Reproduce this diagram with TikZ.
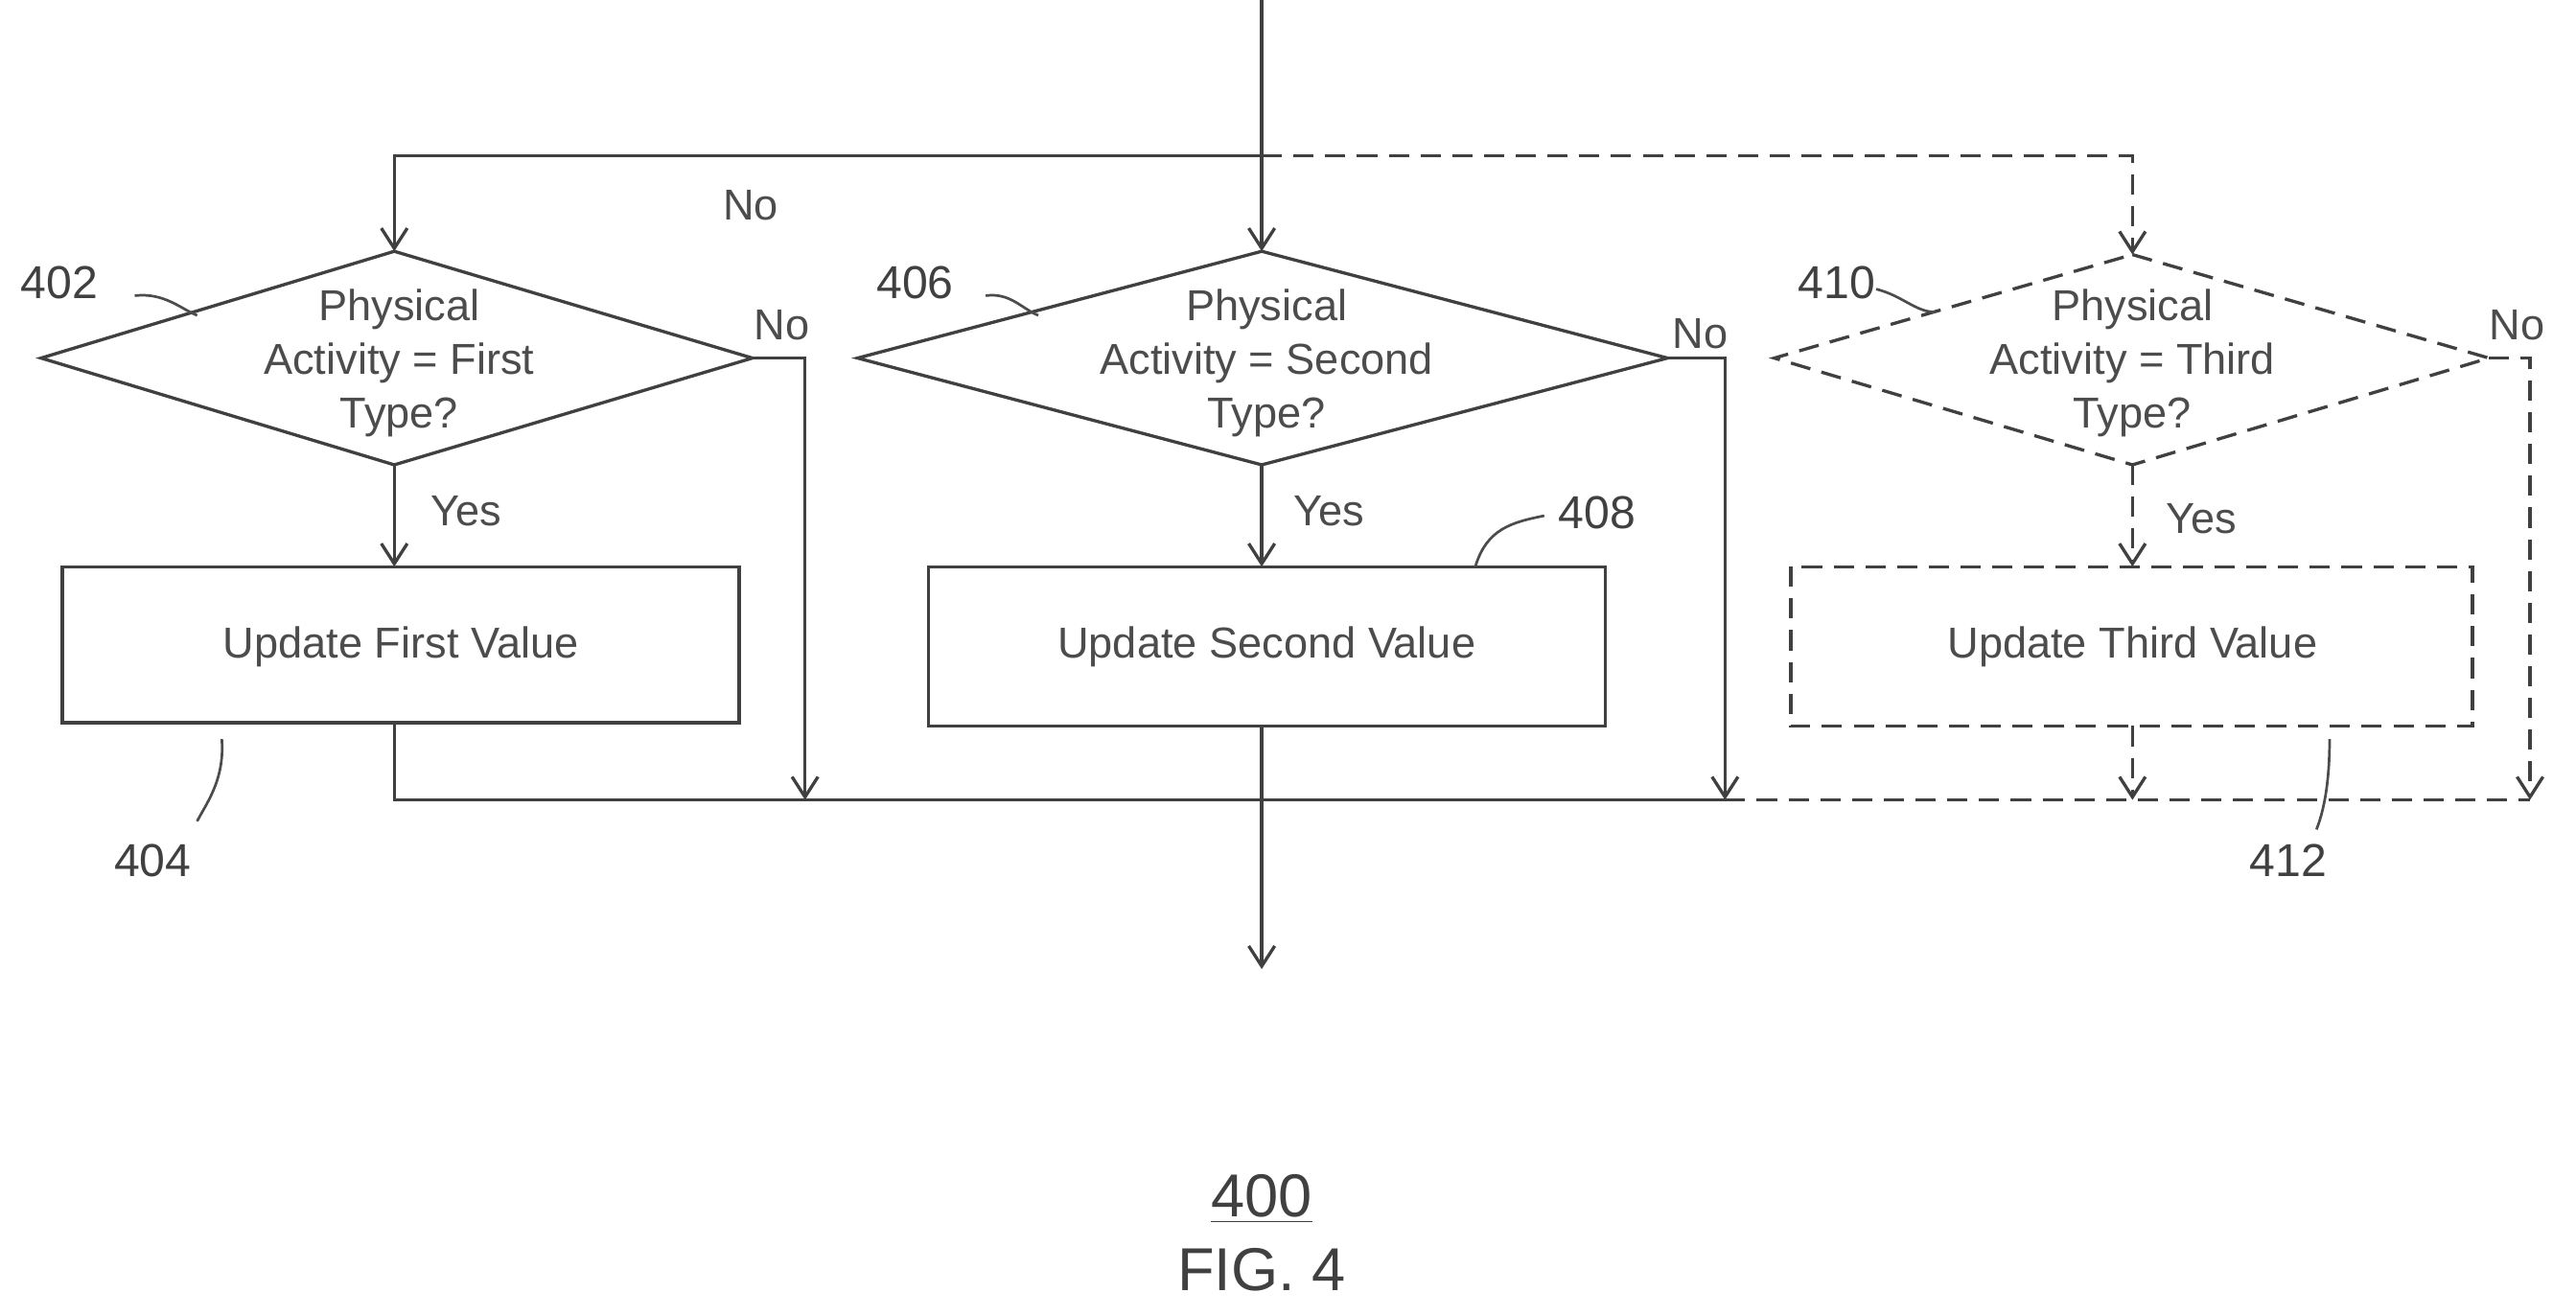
\documentclass[tikz,border=0pt]{standalone}
\usepackage{fontspec}
\setmainfont{Liberation Sans}
\usetikzlibrary{arrows.meta}
\begin{document}
\begin{tikzpicture}[x=0.02cm,y=-0.02cm,
  line/.style={draw=black!75,line width=1.1pt},
  dsh/.style={line,dash pattern=on 7pt off 4pt},
  arr/.style={-{Straight Barb[length=7pt,width=9pt]}},
  txt/.style={font=\fontsize{15}{18.5}\selectfont,text=black!70},
  lbl/.style={font=\fontsize{16}{19}\selectfont,text=black!75},
  sq/.style={draw=black!70,line width=0.9pt}]
\useasboundingbox (0,0) rectangle (1568,801);
% diamonds
\coordinate (d1t) at (240,153); \coordinate (d1b) at (240,283);
\coordinate (d1l) at (25,218); \coordinate (d1r) at (458,218);
\coordinate (d2t) at (768,153); \coordinate (d2b) at (768,283);
\coordinate (d2l) at (522,218); \coordinate (d2r) at (1015,218);
\coordinate (d3t) at (1298,155); \coordinate (d3b) at (1298,283);
\coordinate (d3l) at (1080,218); \coordinate (d3r) at (1515,218);
\draw[line] (d1t)--(d1r)--(d1b)--(d1l)--cycle;
\draw[line] (d2t)--(d2r)--(d2b)--(d2l)--cycle;
\draw[dsh] (d3t)--(d3r)--(d3b)--(d3l)--cycle;
\node[txt,align=center] (t1) at (243,221) {Physical\\Activity = First\\Type?};
\node[txt,align=center] (t2) at (771,221) {Physical\\Activity = Second\\Type?};
\node[txt,align=center] (t3) at (1298,221) {Physical\\Activity = Third\\Type?};
% boxes
\draw[line] (38,345) rectangle (450,440);
\draw[line] (565,345) rectangle (977,442);
\draw[dsh] (1090,345) rectangle (1505,442);
\node[txt] (u1) at (244,394) {Update First Value};
\node[txt] (u2) at (771,394) {Update Second Value};
\node[txt] (u3) at (1298,394) {Update Third Value};
\coordinate (b1t) at (240,345); \coordinate (b1b) at (240,440);
\coordinate (b2t) at (768,345); \coordinate (b2b) at (768,442);
\coordinate (b3t) at (1298,345); \coordinate (b3b) at (1298,442);
% top
\coordinate (top) at (768,0);
\coordinate (tl) at (240,95); \coordinate (tm) at (768,95); \coordinate (tr) at (1298,95);
\draw[line,arr] (top)--(d2t);
\draw[line,arr] (tm)--(tl)--(d1t);
\draw[dsh,arr] (tm)--(tr)--(d3t);
% yes
\draw[line,arr] (d1b)--(b1t);
\draw[line,arr] (d2b)--(b2t);
\draw[dsh,arr] (d3b)--(b3t);
% bottom
\coordinate (bl) at (240,487);
\coordinate (n1) at (490,218); \coordinate (n1b) at (490,487);
\coordinate (n2) at (1050,218); \coordinate (n2b) at (1050,487);
\coordinate (n3) at (1540,218); \coordinate (n3b) at (1540,487);
\coordinate (b3e) at (1298,487); \coordinate (out) at (768,590);
\draw[line] (b1b)--(bl)--(n2b);
\draw[line,arr] (d1r)--(n1)--(n1b);
\draw[line,arr] (d2r)--(n2)--(n2b);
\draw[dsh,arr] (d3r)--(n3)--(n3b);
\draw[dsh] (n2b)--(n3b);
\draw[dsh,arr] (b3b)--(b3e);
\draw[line,arr] (b2b)--(out);
% labels
\node[txt] (no0) at (457,125) {No};
\node[txt] (no1) at (476,198) {No};
\node[txt] (no2) at (1035,203) {No};
\node[txt] (no3) at (1532,198) {No};
\node[txt] (y1) at (284,311) {Yes};
\node[txt] (y2) at (809,311) {Yes};
\node[txt] (y3) at (1340,316) {Yes};
\node[lbl] (l402) at (36,172) {402};
\node[lbl] (l406) at (557,172) {406};
\node[lbl] (l410) at (1118,172) {410};
\node[lbl] (l408) at (972,312) {408};
\node[lbl] (l404) at (93,524) {404};
\node[lbl] (l412) at (1393,524) {412};
\draw[sq] (82,180) .. controls (100,178) and (110,188) .. (120,192);
\draw[sq] (600,180) .. controls (615,178) and (622,188) .. (632,192);
\draw[sq] (1142,176) .. controls (1158,180) and (1166,190) .. (1178,190);
\draw[sq] (940,314) .. controls (920,318) and (905,322) .. (898,345);
\draw[sq] (135,450) .. controls (137,475) and (125,490) .. (120,500);
\draw[sq] (1418,450) .. controls (1418,470) and (1416,490) .. (1410,505);
\node[font=\fontsize{21}{24}\selectfont,text=black!75] (n400) at (768,730) {\underline{400}};
\node[font=\fontsize{21}{24}\selectfont,text=black!75] (fig) at (768,773) {FIG. 4};
\end{tikzpicture}
\end{document}
